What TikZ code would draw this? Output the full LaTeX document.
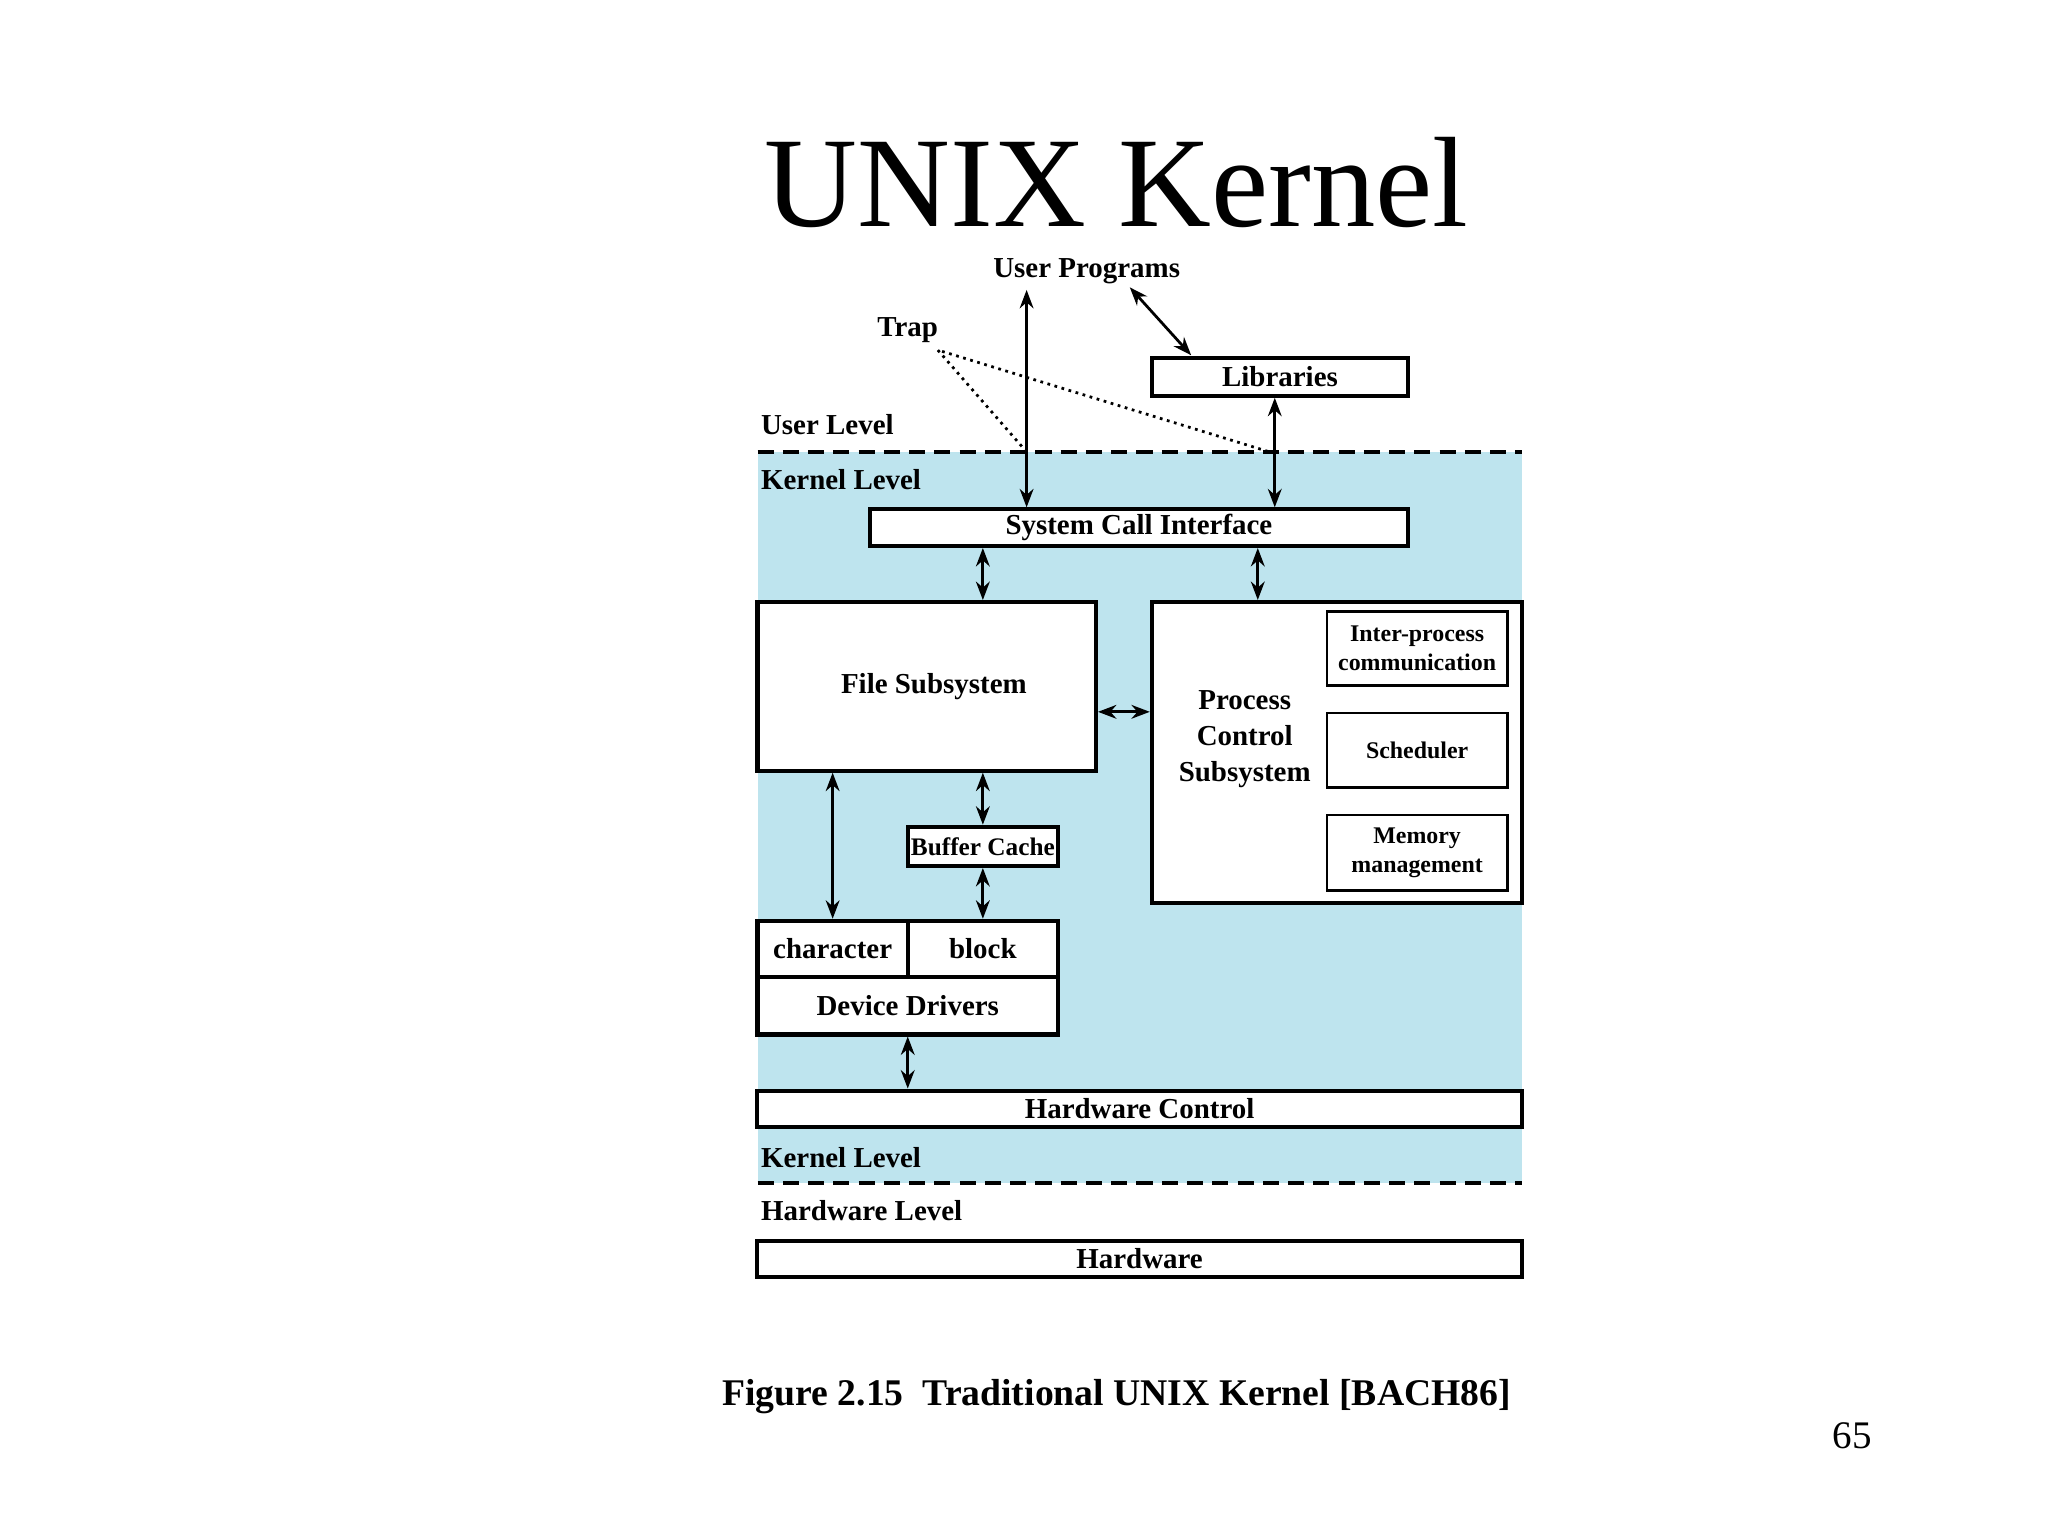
\documentclass[tikz,border=0pt]{standalone}
\usepackage{fontspec}
\setmainfont{Liberation Serif}
\usetikzlibrary{arrows.meta,calc}
\definecolor{kblue}{RGB}{190,228,238}
\begin{document}
\begin{tikzpicture}[x=0.01cm,y=-0.01cm,
  box/.style={draw,line width=0.9pt,fill=white,inner sep=0pt,font=\fontsize{6.3}{7}\selectfont\bfseries},
  ibox/.style={draw,line width=0.6pt,fill=white,inner sep=0pt,align=center,font=\fontsize{5.2}{6.4}\selectfont\bfseries},
  lab/.style={font=\fontsize{6.3}{7}\selectfont\bfseries,inner sep=0pt},
  dar/.style={{Stealth[length=4pt,width=3pt]}-{Stealth[length=4pt,width=3pt]},line width=0.6pt},
  dashline/.style={dash pattern=on 3.5pt off 2pt,line width=0.9pt}]
\useasboundingbox (0,0) rectangle (1568,1176);
\fill[kblue] (580,346) rectangle (1165,906);
\draw[dashline] (580,346) -- (1165,346);
\draw[dashline] (580,906) -- (1165,906);
\node[font=\fontsize{28}{31}\selectfont] (title) at (855,140) {UNIX Kernel};
\node[lab,anchor=west] (ul) at (582,325) {User Level};
\node[lab,anchor=west] (kl1) at (582,367) {Kernel Level};
\node[lab,anchor=west] (kl2) at (582,886) {Kernel Level};
\node[lab,anchor=west] (hl) at (582,927) {Hardware Level};
\node[lab] (up) at (832,208) {User Programs};
\node[lab] (trap) at (695,253) {Trap};
\node[box,minimum width=1.96cm,minimum height=0.29cm] (lib) at (980,288.5) {Libraries};
\node[box,minimum width=4.12cm,minimum height=0.28cm] (sci) at (872,404) {System Call Interface};
\node[box,minimum width=2.59cm,minimum height=1.29cm] (fs) at (709.5,525.5) {};
\node[lab] at (715,526) {File Subsystem};
\node[box,minimum width=2.83cm,minimum height=2.30cm] (pc) at (1023.5,576) {};
\node[lab,align=center,font=\fontsize{6.3}{7.8}\selectfont\bfseries] (pct) at (953,566) {Process\\Control\\Subsystem};
\node[ibox,minimum width=1.38cm,minimum height=0.57cm] (ipc) at (1085,496.5) {Inter-process\\communication};
\node[ibox,minimum width=1.38cm,minimum height=0.57cm] (sch) at (1085,574.5) {Scheduler};
\node[ibox,minimum width=1.38cm,minimum height=0.58cm] (mem) at (1085,653) {Memory\\management};
\node[box,minimum width=1.15cm,minimum height=0.30cm,font=\fontsize{5.5}{6.5}\selectfont\bfseries] (buf) at (752.5,648) {Buffer Cache};
\node[box,minimum width=1.15cm,minimum height=0.43cm] (chr) at (637.5,726.5) {character};
\node[box,minimum width=1.15cm,minimum height=0.43cm] (blk) at (752.5,726.5) {block};
\node[box,minimum width=2.30cm,minimum height=0.44cm] (dd) at (695,770) {Device Drivers};
\node[box,minimum width=5.85cm,minimum height=0.28cm] (hwc) at (872.5,849) {Hardware Control};
\node[box,minimum width=5.85cm,minimum height=0.28cm] (hw) at (872.5,964) {Hardware};
\node[font=\fontsize{8.2}{9.5}\selectfont\bfseries] (cap) at (855,1069) {Figure 2.15\ \ Traditional UNIX Kernel [BACH86]};
\node[font=\fontsize{8.5}{10}\selectfont] (pg) at (1418,1099) {65};
\coordinate (upx) at (786,222);
\coordinate (upd) at (865,220);
\coordinate (libd) at (912,272);
\coordinate (x976) at (976,0);
\coordinate (x963) at (963,0);
\coordinate (y545) at (0,545);
\coordinate (t1) at (786,346);
\coordinate (t2) at (972,346);
\coordinate (tr) at (718,268);
\draw[dar] (upx) -- (sci.north -| upx);
\draw[dar] (upd) -- (libd);
\draw[dar] (lib.south -| x976) -- (sci.north -| x976);
\draw[dar] (sci.south -| buf.north) -- (fs.north -| buf.north);
\draw[dar] (sci.south -| x963) -- (pc.north -| x963);
\draw[dar] (fs.east |- y545) -- (pc.west |- y545);
\draw[dar] (fs.south -| chr.north) -- (chr.north);
\draw[dar] (fs.south -| buf.north) -- (buf.north);
\draw[dar] (buf.south) -- (blk.north);
\draw[dar] (dd.south) -- (hwc.north -| dd.south);
\draw[densely dotted,line width=0.6pt] (t1) -- (tr) -- (t2);
\end{tikzpicture}
\end{document}
